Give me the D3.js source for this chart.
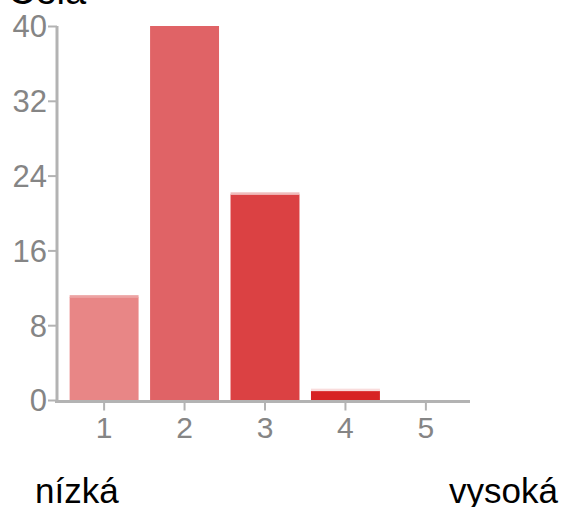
<!DOCTYPE html>
<html><head><meta charset="utf-8">
<script src="https://cdn.jsdelivr.net/npm/d3@7"></script>
<style>body{margin:0;background:#fff}svg{display:block}</style>
</head><body>
<script>
const categories = ["1","2","3","4","5"];
const values = [11, 40, 22, 1, 0];
const barColors = ["#e88686", "#e06366", "#db4143", "#d72324", "#c41a1a"];
const highlightColors = ["#eda3a3", "#e88486", "#f0bcbc", "#f9dcdc", "#f5c0c0"];
const yTicks = [0, 8, 16, 24, 32, 40];
const title = "Celá";
const lowLabel = "nízká";
const highLabel = "vysoká";

const W = 562, H = 507;
const svg = d3.select("body").append("svg").attr("width", W).attr("height", H);

const x = d3.scaleBand().domain(categories).range([64, 466]).paddingInner(0.143).paddingOuter(0.07);
const y = d3.scaleLinear().domain([0, 40]).range([400, 26]);

// bars
svg.selectAll("rect.bar").data(values).join("rect")
  .attr("class", "bar")
  .attr("x", (d, i) => x(categories[i]))
  .attr("width", x.bandwidth())
  .attr("y", d => y(d))
  .attr("height", d => y(0) - y(d))
  .attr("fill", (d, i) => barColors[i]);
// thin light top edge
svg.selectAll("rect.hl").data(values).join("rect")
  .attr("class", "hl")
  .attr("x", (d, i) => x(categories[i]))
  .attr("width", x.bandwidth())
  .attr("y", d => y(d) - 2)
  .attr("height", d => d > 0 && d < 40 ? 2.5 : 0)
  .attr("fill", (d, i) => highlightColors[i]);

const axisColor = "#b3b3b3";
const textColor = "#858585";
const font = "'Liberation Sans', Arial, sans-serif";

// y axis
const yAxis = svg.append("g").attr("transform", "translate(57,0)")
  .call(d3.axisLeft(y).tickValues(yTicks).tickSize(9).tickPadding(4).tickFormat(d3.format("d")));
yAxis.select(".domain").attr("d", `M0,${y(40)}V${y(0)+3}`).attr("stroke", axisColor).attr("stroke-width", 3);
yAxis.selectAll(".tick line").attr("stroke", axisColor).attr("stroke-width", 2);
yAxis.selectAll(".tick text").attr("fill", textColor).attr("font-size", 31).attr("font-family", font)
  .attr("dy", "0.35em").attr("x", -10);

// x axis
const xAxis = svg.append("g").attr("transform", `translate(0,${y(0)+1.5})`)
  .call(d3.axisBottom(x).tickSize(9).tickPadding(6));
xAxis.select(".domain").attr("d", "M55,0H470").attr("stroke", axisColor).attr("stroke-width", 3);
xAxis.selectAll(".tick line").attr("stroke", axisColor).attr("stroke-width", 2);
xAxis.selectAll(".tick text").attr("fill", textColor).attr("font-size", 30).attr("font-family", font)
  .attr("y", 15).attr("dy", "0.71em");

// title (cut off at top)
svg.append("text").attr("x", 8).attr("y", 4).attr("font-family", font).attr("font-size", 38)
  .attr("fill", "#000").text(title);

svg.append("text").attr("x", 35).attr("y", 503).attr("font-family", font).attr("font-size", 35)
  .attr("fill", "#000").text(lowLabel);
svg.append("text").attr("x", 558).attr("y", 503).attr("text-anchor", "end").attr("font-family", font).attr("font-size", 35)
  .attr("fill", "#000").text(highLabel);
</script>
</body></html>
